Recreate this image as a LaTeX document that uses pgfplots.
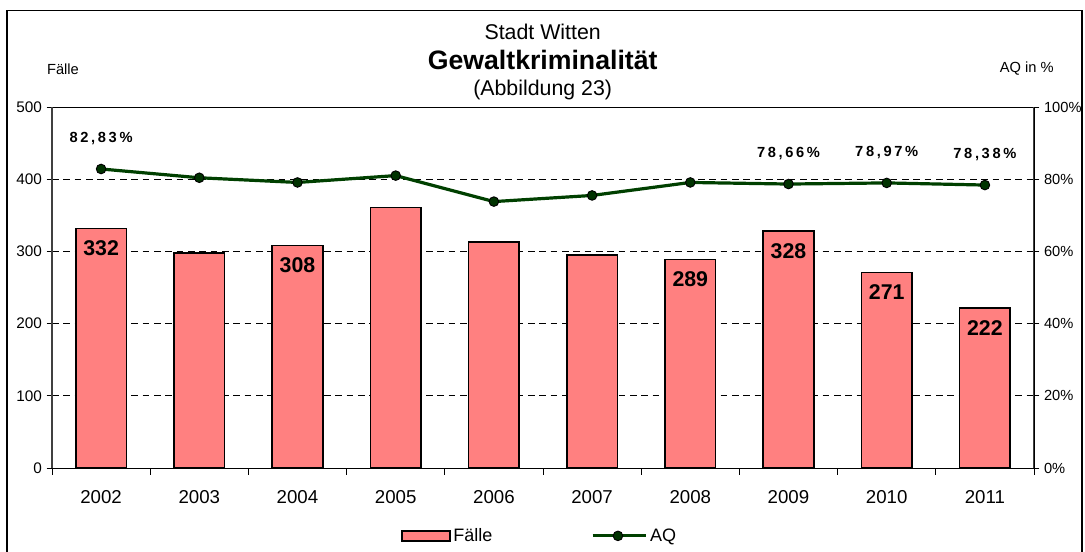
\documentclass[border=0pt]{standalone}
\usepackage{fontspec}
\setmainfont{Liberation Sans}
\usepackage{pgfplots}
\pgfplotsset{compat=1.18}
\definecolor{barfill}{RGB}{255,128,128}
\definecolor{aqline}{RGB}{0,64,0}
\definecolor{aqmark}{RGB}{0,51,0}
\begin{document}
\begin{tikzpicture}
\begin{axis}[
  at={(0pt,0pt)}, anchor=south west,
  scale only axis, width=736.5pt, height=270.75pt,
  xmin=-0.5, xmax=9.5, ymin=0, ymax=500,
  xtick={0,...,9},
  xticklabels={2002,2003,2004,2005,2006,2007,2008,2009,2010,2011},
  minor xtick={-0.5,0.5,...,9.5},
  major x tick style={draw=none},
  minor tick length=5pt,
  xtick pos=bottom, ytick pos=left,
  tick align=outside, major tick length=4pt,
  ytick={0,100,...,500},
  ymajorgrids,
  grid style={black, dash pattern=on 5pt off 3.5pt, line width=0.6pt},
  axis line style={black, line width=0.7pt},
  separate axis lines,
  y axis line style={line width=1.2pt, black!75},
  every tick/.style={black, line width=0.6pt},
  /pgf/number format/assume math mode=true,
  xticklabel style={font=\fontsize{14}{16}\selectfont, yshift=-9pt},
  yticklabel style={font=\fontsize{11.5}{13}\selectfont},
  clip=false,
]
\addplot[ybar, bar width=38pt, fill=barfill, draw=black, line width=1.2pt] coordinates {
  (0,332) (1,298) (2,308) (3,361) (4,313) (5,295) (6,289) (7,328) (8,271) (9,222)
};
\addplot[draw=none, mark=none, point meta=explicit symbolic,
  nodes near coords,
  every node near coord/.style={anchor=center, yshift=-15pt,
    font=\fontsize{16}{18}\selectfont\bfseries, text=black}] coordinates {
  (0,332) [332] (2,308) [308] (6,289) [289] (7,328) [328] (8,271) [271] (9,222) [222]
};
\end{axis}
\begin{axis}[
  at={(0pt,0pt)}, anchor=south west,
  scale only axis, width=736.5pt, height=270.75pt,
  xmin=-0.5, xmax=9.5, ymin=0, ymax=100,
  axis x line=none,
  axis y line*=right,
  ytick={0,20,...,100},
  yticklabel={\pgfmathprintnumber{\tick}\%},
  tick align=outside, major tick length=4pt,
  every tick/.style={black, line width=0.6pt},
  axis line style={black, line width=0.7pt},
  /pgf/number format/assume math mode=true,
  yticklabel style={font=\fontsize{11}{13}\selectfont},
  clip=false,
  legend style={at={(0.497,-0.188)}, anchor=center, draw=none, fill=none,
    legend columns=2, font=\fontsize{13.5}{15}\selectfont,
    /tikz/every even column/.append style={column sep=72pt}},
  legend cell align=left,
]
\addlegendimage{area legend, fill=barfill, draw=black, line width=1.1pt,
  legend image code/.code={
  \draw[fill=barfill, draw=black, line width=1.1pt] (0pt,-3.75pt) rectangle (36pt,3.75pt);}}
\addlegendentry{Fälle}
\addplot[aqline, line width=2.4pt, mark=*, mark size=3.6pt,
  mark options={fill=aqmark, draw=black, line width=0.7pt},
  legend image code/.code={
    \draw[aqline, line width=2.4pt] (0pt,0pt) -- (40pt,0pt);
    \draw[fill=aqmark, draw=black, line width=0.7pt] (19pt,0pt) circle (3.6pt);}]
coordinates {
  (0,82.83) (1,80.4) (2,79.1) (3,81.0) (4,73.8) (5,75.5) (6,79.1) (7,78.66) (8,78.97) (9,78.38)
};
\addlegendentry{AQ}
\addplot[draw=none, mark=none, point meta=explicit symbolic, forget plot,
  nodes near coords,
  every node near coord/.style={anchor=center, yshift=23pt,
    font=\fontsize{11}{13}\selectfont\bfseries\addfontfeature{LetterSpace=18}, text=black}] coordinates {
  (0,82.83) [82,83\%] (7,78.66) [78,66\%] (8,78.97) [78,97\%] (9,78.38) [78,38\%]
};
\end{axis}
\node[font=\fontsize{16}{18}\selectfont] at (368pt,327pt) {Stadt Witten};
\node[font=\fontsize{20}{22}\selectfont\bfseries] at (368pt,306pt) {Gewaltkriminalität};
\node[font=\fontsize{16}{18}\selectfont] at (368pt,283.5pt) {(Abbildung 23)};
\node[font=\fontsize{11}{13}\selectfont] at (8.25pt,299.25pt) {Fälle};
\node[font=\fontsize{11}{13}\selectfont] at (731pt,299.25pt) {AQ in \%};
\draw[black, line width=1pt] (-33.75pt,-70pt) -- (-33.75pt,343pt) -- (772.5pt,343pt) -- (772.5pt,-70pt);
\pgfresetboundingbox
\useasboundingbox (-39pt,-62.25pt) rectangle (774.75pt,351pt);
\end{tikzpicture}
\end{document}
